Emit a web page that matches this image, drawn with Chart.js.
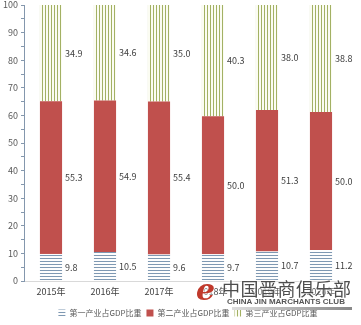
<!DOCTYPE html>
<html>
<head>
<meta charset="utf-8">
<script src="https://cdn.jsdelivr.net/npm/chart.js@4.4.0/dist/chart.umd.min.js"></script>
<style>
  html, body { margin: 0; padding: 0; background: #fff; }
  #wrap { position: relative; width: 361px; height: 325px; }
  .wm { position: absolute; white-space: nowrap; text-shadow: 0 0 3px #fff, 0 0 3px #fff; }
  #wmLogo { left: 196px; top: 272px; font: italic bold 30px "DejaVu Serif", serif; color: #c0392b; }
  #wmCn { left: 222px; top: 275px; font: 18px "Noto Sans CJK SC"; letter-spacing: 0.5px; color: #4d4d4d; }
  #wmEn { left: 227px; top: 297px; font: bold 8px "Liberation Sans"; color: #555; }
  #wmBar { left: 232px; top: 307px; width: 120px; height: 3px; background: linear-gradient(90deg, #ddd, #888); }
</style>
</head>
<body>
<div id="wrap">
  <canvas id="chart" width="361" height="325"></canvas>
  <div class="wm" id="wmLogo">e</div>
  <div class="wm" id="wmCn">中国晋商俱乐部</div>
  <div class="wm" id="wmEn">CHINA JIN MARCHANTS CLUB</div>
  <div class="wm" id="wmBar"></div>
</div>
<script>
const years = ['2015年', '2016年', '2017年', '2018年', '2019年', '2020年'];
const primaryShare = [9.8, 10.5, 9.6, 9.7, 10.7, 11.2];
const secondaryShare = [55.3, 54.9, 55.4, 50.0, 51.3, 50.0];
const tertiaryShare = [34.9, 34.6, 35.0, 40.3, 38.0, 38.8];
const seriesNames = ['第一产业占GDP比重', '第二产业占GDP比重', '第三产业占GDP比重'];

const font = '"Noto Sans CJK SC", sans-serif';

// striped fills like the excel patterns
function stripes(color, gap, vertical) {
  const p = document.createElement('canvas');
  p.width = 3;
  p.height = 3;
  const g = p.getContext('2d');
  g.fillStyle = gap;
  g.fillRect(0, 0, 3, 3);
  g.fillStyle = color;
  if (vertical) g.fillRect(0, 0, 1, 3);
  else g.fillRect(0, 0, 3, 1);
  return g.createPattern(p, 'repeat');
}

const segmentLabels = {
  id: 'segmentLabels',
  afterDatasetsDraw(chart) {
    const ctx = chart.ctx;
    ctx.save();
    ctx.font = '9px ' + font;
    ctx.fillStyle = '#404040';
    ctx.textAlign = 'left';
    ctx.textBaseline = 'middle';
    chart.data.datasets.forEach((ds, i) => {
      chart.getDatasetMeta(i).data.forEach((bar, j) => {
        const p = bar.getProps(['x', 'y', 'base', 'width'], true);
        ctx.fillText(ds.data[j].toFixed(1), p.x + p.width / 2 + 3, (p.y + p.base) / 2);
      });
    });
    ctx.restore();
  }
};

// legend sits a bit right of centre and lower in the original
const legendShift = {
  id: 'legendShift',
  afterLayout(chart) {
    chart.legend.left += 14;
    chart.legend.right += 14;
    chart.legend.top += 2;
    chart.legend.bottom += 2;
  }
};

const ctx = document.getElementById('chart').getContext('2d');
new Chart(ctx, {
  type: 'bar',
  data: {
    labels: years,
    datasets: [
      { label: seriesNames[0], data: primaryShare, backgroundColor: stripes('#7e98b2', '#fdfdfd', false) },
      { label: seriesNames[1], data: secondaryShare, backgroundColor: '#c0504d' },
      { label: seriesNames[2], data: tertiaryShare, backgroundColor: stripes('#a3b164', '#fbfcf2', true) }
    ]
  },
  options: {
    responsive: false,
    animation: false,
    categoryPercentage: 1,
    barPercentage: 0.41,
    layout: { padding: { left: 0, right: 13, top: 5, bottom: 0 } },
    plugins: {
      tooltip: { enabled: false },
      legend: {
        position: 'bottom',
        labels: { font: { size: 8, family: font }, color: '#595959', boxWidth: 7, boxHeight: 7, padding: 5 }
      }
    },
    scales: {
      x: {
        stacked: true,
        afterFit(scale) { scale.height = 21; },
        grid: { display: false, drawTicks: false },
        border: { color: '#d9d9d9' },
        ticks: { font: { size: 9, family: font }, color: '#404040', padding: 5 }
      },
      y: {
        stacked: true,
        min: 0,
        max: 100,
        afterFit(scale) {
          scale.width = 24;
          scale.paddingTop = 0;
          scale.paddingBottom = 0;
        },
        grid: { drawOnChartArea: false, tickLength: 3, color: '#8497ad' },
        border: { color: '#8497ad' },
        ticks: {
          stepSize: 5,
          padding: 3,
          font: { size: 9, family: font },
          color: '#595959',
          callback: v => (v % 10 === 0 ? v : '')
        }
      }
    }
  },
  plugins: [segmentLabels, legendShift]
});
</script>
</body>
</html>
